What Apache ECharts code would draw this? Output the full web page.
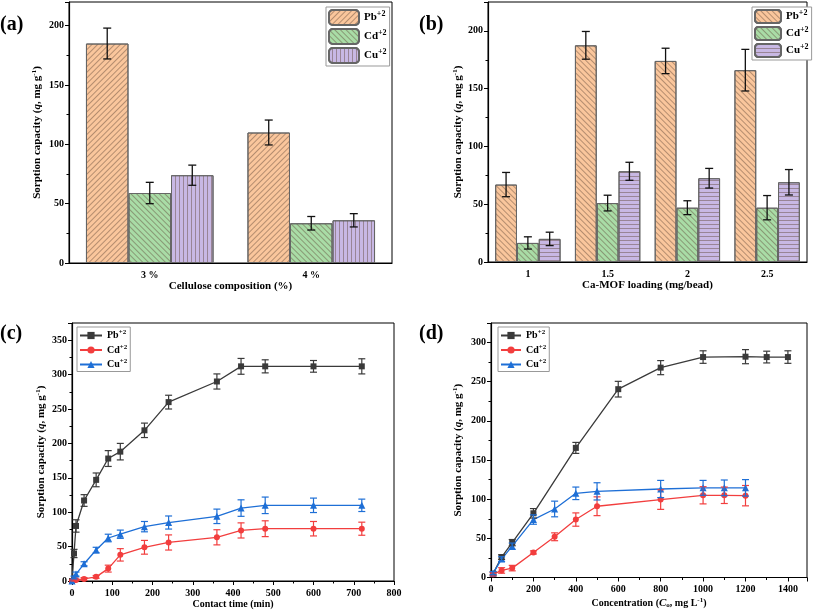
<!DOCTYPE html>
<html><head><meta charset="utf-8">
<script src="https://cdn.jsdelivr.net/npm/echarts@6/dist/echarts.min.js"></script>
<style>html,body{margin:0;padding:0;background:#fff}#c{width:813px;height:610px}</style>
</head><body><div id="c"></div><script>
const SERIF = '"Liberation Serif","Times New Roman",serif';

// ---- (a) Cellulose composition ----
const aCats = ['3 %', '4 %'];
const aPb = [185, 110];   const aPbErr = [13, 10.5];
const aCd = [59, 33.5];   const aCdErr = [9, 5.7];
const aCu = [74, 36];     const aCuErr = [8.5, 5.6];

// ---- (b) Ca-MOF loading ----
const bCats = ['1', '1.5', '2', '2.5'];
const bPb = [67, 187.5, 174, 166];  const bPbErr = [10.5, 12, 11, 18];
const bCd = [16.5, 51, 47, 47];     const bCdErr = [5.3, 6.8, 6, 10.5];
const bCu = [20, 78.5, 72.5, 69];   const bCuErr = [5.8, 7.8, 8.5, 11];

// ---- (c) Contact time ----
const cTime = [0, 5, 10, 30, 60, 90, 120, 180, 240, 360, 420, 480, 600, 720];
const cPb = [0, 40, 80, 117, 147, 178, 188, 219, 260, 290, 312, 312, 312, 312];
const cPbErr = [0, 6, 9, 8.5, 10, 11.5, 12, 10.5, 10, 11, 11.5, 9.5, 8.5, 11];
const cCd = [0, 1, 1.5, 3, 6, 18, 38, 49, 56, 63.5, 73.5, 76, 76, 76];
const cCdErr = [0, 1, 1, 2, 2, 5, 9, 10, 11, 11, 11, 11.5, 10.5, 9.5];
const cCu = [0, 5, 10, 25, 45, 62.5, 68, 79, 85, 94, 106, 110, 110, 110];
const cCuErr = [0, 2, 3, 3, 4, 5.5, 6, 7.5, 9.5, 10.5, 12, 12, 10.5, 9];

// ---- (d) Concentration ----
const dConcPb = [10, 50, 100, 200, 400, 600, 800, 1000, 1200, 1300, 1400];
const dPb = [5, 26, 44.5, 82, 165.5, 240.5, 268, 281.5, 282, 281.5, 281.5];
const dPbErr = [2, 3, 4, 6, 7, 10, 9, 8, 9, 7.5, 8];
const dConc = [10, 50, 100, 200, 300, 400, 500, 800, 1000, 1100, 1200];
const dCd = [4, 9, 12, 32, 52, 74, 91, 99.5, 105, 105, 104.5];
const dCdErr = [2, 3.5, 3.5, 2, 5, 8.5, 12, 12.5, 11, 10.5, 13];
const dCu = [5.5, 23.5, 40, 74, 87.5, 107.5, 110, 113, 114.5, 114.5, 114.5];
const dCuErr = [2, 3, 4, 6, 10, 8, 11, 11, 9.5, 10, 10.5];

const COL = {Pb: '#FAC69C', Cd: '#A9DCA6', Cu: '#C8B8E4'};
const LCOL = {Pb: '#3a3a3a', Cd: '#F23E3E', Cu: '#1E6FD6'};
const LBL = {Pb: 'Pb{s|+2}', Cd: 'Cd{s|+2}', Cu: 'Cu{s|+2}'};

const richBase = {
  i: {fontFamily: SERIF, fontWeight: 'bold', fontStyle: 'italic', fontSize: 11, color: '#000'},
  s: {fontFamily: SERIF, fontWeight: 'bold', fontSize: 7, color: '#000', padding: [0, 0, 6, 0]},
  b: {fontFamily: SERIF, fontWeight: 'bold', fontSize: 7, color: '#000', padding: [5, 0, 0, 0]}
};
const YNAME = 'Sorption capacity ({i|q}, mg g{s|-1})';

function grids() {
  const common = {show: true, borderColor: '#000', borderWidth: 1, backgroundColor: 'transparent'};
  return [
    Object.assign({left: 69, top: 2, width: 323, height: 261}, common),
    Object.assign({left: 488, top: 2, width: 319, height: 260}, common),
    Object.assign({left: 72, top: 323, width: 322, height: 259}, common),
    Object.assign({left: 491, top: 323, width: 316, height: 256}, common)
  ];
}
const axisLine = {show: true, lineStyle: {color: '#000', width: 1.2}};
const labelStyle = {fontFamily: SERIF, fontWeight: 'bold', fontSize: 10, color: '#000'};
const nameStyle = {fontFamily: SERIF, fontWeight: 'bold', fontSize: 11, color: '#000', rich: richBase};

function yAxis(gi, max, gap) {
  return {type: 'value', gridIndex: gi, min: 0, max: max, interval: 50,
    axisLine: axisLine, axisTick: {show: true, length: 4, lineStyle: {color: '#000', width: 1}},
    minorTick: {show: true, splitNumber: 2, length: 2.5, lineStyle: {color: '#000'}},
    splitLine: {show: false}, minorSplitLine: {show: false},
    axisLabel: Object.assign({margin: 5, showMaxLabel: false}, labelStyle),
    name: YNAME, nameLocation: 'middle', nameGap: gap, nameTextStyle: nameStyle};
}

function barSeries(key, gi, vals, decal) {
  return {type: 'bar', name: key + '_' + gi, xAxisIndex: gi, yAxisIndex: gi, data: vals,
    barGap: '0%', barCategoryGap: gi === 0 ? '21%' : '18%',
    itemStyle: {color: COL[key], borderColor: '#666', borderWidth: 1, decal: decal}, z: 2};
}
// DOMMatrix rotation: positive angle turns clockwise on screen
function decal(rot, dy, color) {
  return {symbol: 'rect', symbolSize: 1, dashArrayX: [1, 0], dashArrayY: dy, rotation: rot, color: color};
}
function barErr(gi, vals, errs, idx, n, gap) {
  return {type: 'custom', xAxisIndex: gi, yAxisIndex: gi, z: 6, silent: true,
    data: vals.map((v, i) => [i, v - errs[i], v + errs[i]]),
    renderItem: function (params, api) {
      const band = api.size([1, 0])[0];
      const bw = band * (1 - gap) / n;
      const lo = api.coord([api.value(0), api.value(1)]);
      const hi = api.coord([api.value(0), api.value(2)]);
      const x = lo[0] + (idx - (n - 1) / 2) * bw;
      const cw = 4, st = {stroke: '#111', lineWidth: 1.3};
      return {type: 'group', children: [
        {type: 'line', shape: {x1: x, y1: lo[1], x2: x, y2: hi[1]}, style: st},
        {type: 'line', shape: {x1: x - cw, y1: lo[1], x2: x + cw, y2: lo[1]}, style: st},
        {type: 'line', shape: {x1: x - cw, y1: hi[1], x2: x + cw, y2: hi[1]}, style: st}
      ]};
    }};
}
function lineSeries(key, gi, xs, ys, sym, size) {
  return {type: 'line', name: key + '_' + gi, xAxisIndex: gi, yAxisIndex: gi,
    data: xs.map((x, i) => [x, ys[i]]), symbol: sym, symbolSize: size, showSymbol: true,
    lineStyle: {color: LCOL[key], width: 1.3}, itemStyle: {color: LCOL[key]}, z: 4};
}
function lineErr(key, gi, xs, ys, errs) {
  return {type: 'custom', xAxisIndex: gi, yAxisIndex: gi, z: 5, silent: true,
    data: xs.map((x, i) => [x, ys[i] - errs[i], ys[i] + errs[i]]).filter((d, i) => errs[i] > 0),
    renderItem: function (params, api) {
      const lo = api.coord([api.value(0), api.value(1)]);
      const hi = api.coord([api.value(0), api.value(2)]);
      const x = lo[0], cw = 3.5, st = {stroke: LCOL[key], lineWidth: 1.2};
      return {type: 'group', children: [
        {type: 'line', shape: {x1: x, y1: lo[1], x2: x, y2: hi[1]}, style: st},
        {type: 'line', shape: {x1: x - cw, y1: lo[1], x2: x + cw, y2: lo[1]}, style: st},
        {type: 'line', shape: {x1: x - cw, y1: hi[1], x2: x + cw, y2: hi[1]}, style: st}
      ]};
    }};
}
function legendText(fs) {
  return {fontFamily: SERIF, fontWeight: 'bold', fontSize: fs, color: '#000',
    rich: {s: {fontFamily: SERIF, fontWeight: 'bold', fontSize: fs - 3, color: '#000', padding: [0, 0, fs - 4, 0]}}};
}
function legend(gi, left, top, iw, ih, gap, fs) {
  return {data: ['Pb_' + gi, 'Cd_' + gi, 'Cu_' + gi], orient: 'vertical', left: left, top: top,
    itemWidth: iw, itemHeight: ih, itemGap: gap, padding: [2, 3, 2, 2],
    borderColor: '#999', borderWidth: 1, backgroundColor: '#fff',
    formatter: n => LBL[n.split('_')[0]], textStyle: legendText(fs), selectedMode: false};
}

const D = 'rgba(95,70,55,0.45)';
const SLASH = -Math.PI / 4, BSLASH = Math.PI / 4;
const option = {
  animation: false,
  grid: grids(),
  xAxis: [
    {type: 'category', gridIndex: 0, data: aCats, axisLine: axisLine,
      axisTick: {alignWithLabel: true, length: 4, lineStyle: {color: '#000'}},
      axisLabel: Object.assign({margin: 7}, labelStyle),
      name: 'Cellulose composition (%)', nameLocation: 'middle', nameGap: 17, nameTextStyle: nameStyle},
    {type: 'category', gridIndex: 1, data: bCats, axisLine: axisLine,
      axisTick: {alignWithLabel: true, length: 4, lineStyle: {color: '#000'}},
      axisLabel: Object.assign({margin: 7}, labelStyle),
      name: 'Ca-MOF loading (mg/bead)', nameLocation: 'middle', nameGap: 18, nameTextStyle: nameStyle},
    {type: 'value', gridIndex: 2, min: 0, max: 800, interval: 100, axisLine: axisLine,
      axisTick: {length: 4, lineStyle: {color: '#000'}},
      minorTick: {show: true, splitNumber: 2, length: 2.5, lineStyle: {color: '#000'}},
      splitLine: {show: false}, axisLabel: Object.assign({margin: 7, formatter: v => String(v)}, labelStyle),
      name: 'Contact time (min)', nameLocation: 'middle', nameGap: 18,
      nameTextStyle: Object.assign({}, nameStyle, {fontSize: 10})},
    {type: 'value', gridIndex: 3, min: 0, max: 1490, interval: 200, axisLine: axisLine,
      axisTick: {length: 4, lineStyle: {color: '#000'}},
      minorTick: {show: true, splitNumber: 2, length: 2.5, lineStyle: {color: '#000'}},
      splitLine: {show: false},
      axisLabel: Object.assign({margin: 7, showMaxLabel: false, formatter: v => String(v)}, labelStyle),
      name: 'Concentration ({i|C}{b|o}, mg L{s|-1})', nameLocation: 'middle', nameGap: 19,
      nameTextStyle: Object.assign({}, nameStyle, {fontSize: 10})}
  ],
  yAxis: [yAxis(0, 220, 25), yAxis(1, 225, 23), yAxis(2, 375, 24), yAxis(3, 325, 26)],
  legend: [
    legend(0, 326, 7, 30, 15, 2, 11),
    legend(1, 752, 7, 26, 13, 2, 11),
    legend(2, 77, 327, 22, 9, 3, 10),
    legend(3, 498, 327, 20, 9, 3, 10)
  ],
  graphic: [
    {type: 'text', left: 0, top: 15, style: {text: '(a)', font: 'bold 20px ' + SERIF, fill: '#000'}},
    {type: 'text', left: 419, top: 15, style: {text: '(b)', font: 'bold 20px ' + SERIF, fill: '#000'}},
    {type: 'text', left: 0, top: 324, style: {text: '(c)', font: 'bold 20px ' + SERIF, fill: '#000'}},
    {type: 'text', left: 419, top: 324, style: {text: '(d)', font: 'bold 20px ' + SERIF, fill: '#000'}}
  ],
  series: [
    barSeries('Pb', 0, aPb, decal(SLASH, [1, 2.5], D)),
    barSeries('Cd', 0, aCd, decal(BSLASH, [1, 2.5], D)),
    barSeries('Cu', 0, aCu, decal(Math.PI / 2, [1, 3], D)),
    barErr(0, aPb, aPbErr, 0, 3, 0.21),
    barErr(0, aCd, aCdErr, 1, 3, 0.21),
    barErr(0, aCu, aCuErr, 2, 3, 0.21),
    barSeries('Pb', 1, bPb, decal(BSLASH, [1, 3], D)),
    barSeries('Cd', 1, bCd, decal(BSLASH, [1, 3], D)),
    barSeries('Cu', 1, bCu, decal(0, [1, 3], D)),
    barErr(1, bPb, bPbErr, 0, 3, 0.18),
    barErr(1, bCd, bCdErr, 1, 3, 0.18),
    barErr(1, bCu, bCuErr, 2, 3, 0.18),
    lineSeries('Pb', 2, cTime, cPb, 'rect', 6),
    lineSeries('Cd', 2, cTime, cCd, 'circle', 6),
    lineSeries('Cu', 2, cTime, cCu, 'triangle', 7),
    lineErr('Pb', 2, cTime, cPb, cPbErr),
    lineErr('Cd', 2, cTime, cCd, cCdErr),
    lineErr('Cu', 2, cTime, cCu, cCuErr),
    lineSeries('Pb', 3, dConcPb, dPb, 'rect', 6),
    lineSeries('Cd', 3, dConc, dCd, 'circle', 6),
    lineSeries('Cu', 3, dConc, dCu, 'triangle', 7),
    lineErr('Pb', 3, dConcPb, dPb, dPbErr),
    lineErr('Cd', 3, dConc, dCd, dCdErr),
    lineErr('Cu', 3, dConc, dCu, dCuErr)
  ]
};
const chart = echarts.init(document.getElementById('c'), null, {renderer: 'canvas'});
chart.setOption(option);
</script></body></html>
